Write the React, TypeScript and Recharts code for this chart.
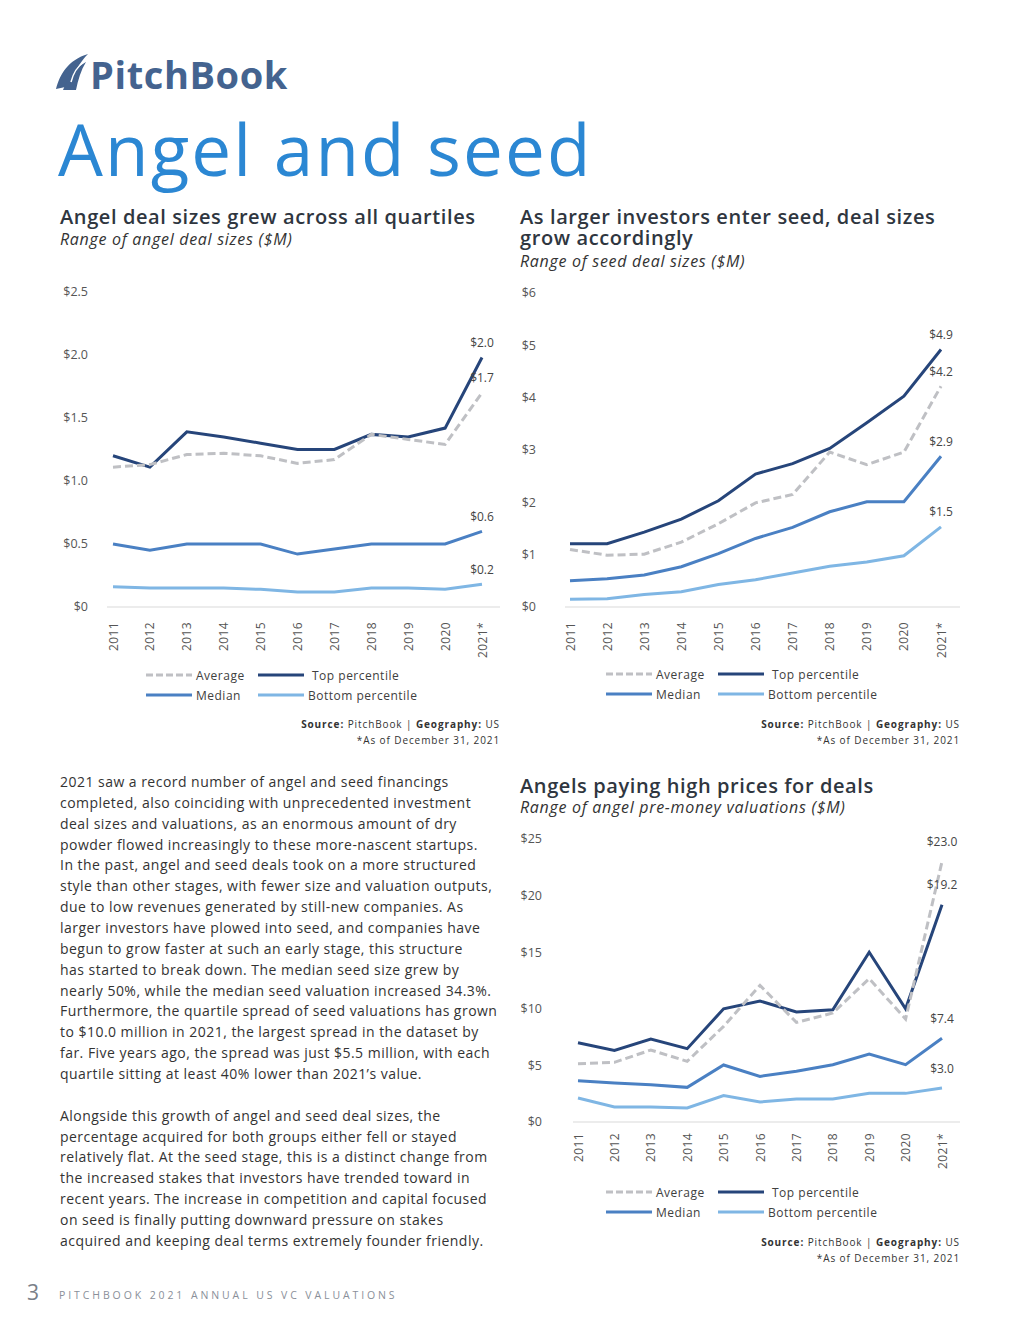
import React from "react";
import { Legend, Line, LineChart, XAxis, YAxis } from "recharts";

const years = ["2011", "2012", "2013", "2014", "2015", "2016", "2017", "2018", "2019", "2020", "2021*"];

// Range of angel deal sizes ($M)
const angelAvg = [1.11, 1.13, 1.21, 1.22, 1.2, 1.14, 1.17, 1.37, 1.33, 1.29, 1.7];
const angelTop = [1.2, 1.11, 1.39, 1.35, 1.3, 1.25, 1.25, 1.37, 1.35, 1.42, 1.98];
const angelMedian = [0.5, 0.45, 0.5, 0.5, 0.5, 0.42, 0.46, 0.5, 0.5, 0.5, 0.6];
const angelBottom = [0.16, 0.15, 0.15, 0.15, 0.14, 0.12, 0.12, 0.15, 0.15, 0.14, 0.18];
const angelTicks = [0, 0.5, 1, 1.5, 2, 2.5];

// Range of seed deal sizes ($M)
const seedAvg = [1.1, 0.99, 1.01, 1.24, 1.59, 1.99, 2.15, 2.96, 2.72, 2.96, 4.22];
const seedTop = [1.21, 1.21, 1.43, 1.68, 2.03, 2.54, 2.74, 3.03, 3.52, 4.03, 4.92];
const seedMedian = [0.5, 0.54, 0.61, 0.77, 1.02, 1.31, 1.52, 1.82, 2.01, 2.01, 2.88];
const seedBottom = [0.15, 0.16, 0.24, 0.29, 0.43, 0.52, 0.65, 0.78, 0.86, 0.98, 1.53];
const seedTicks = [0, 1, 2, 3, 4, 5, 6];

// Range of angel pre-money valuations ($M)
const valAvg = [5.15, 5.27, 6.36, 5.36, 8.45, 12.07, 8.8, 9.63, 12.66, 9.1, 23.0];
const valTop = [7.0, 6.33, 7.33, 6.48, 10.0, 10.69, 9.72, 9.92, 15.0, 10.0, 19.2];
const valMedian = [3.65, 3.45, 3.3, 3.06, 5.04, 4.03, 4.48, 5.06, 6.0, 5.06, 7.4];
const valBottom = [2.12, 1.33, 1.33, 1.24, 2.33, 1.77, 2.03, 2.03, 2.53, 2.53, 3.0];
const valTicks = [0, 5, 10, 15, 20, 25];

const seriesNames = ["Average", "Top percentile", "Median", "Bottom percentile"];

const C_AVG = "#bfc0c4";
const C_TOP = "#26457a";
const C_MED = "#4a80c3";
const C_BOT = "#7fb6e4";
const FONT = "'Open Sans', sans-serif";
const TEXT = "#2f3640";

const buildRows = (avg: number[], top: number[], med: number[], bot: number[]) =>
  years.map((year, i) => ({ year, avg: avg[i], top: top[i], med: med[i], bot: bot[i] }));

const angelRows = buildRows(angelAvg, angelTop, angelMedian, angelBottom);
const seedRows = buildRows(seedAvg, seedTop, seedMedian, seedBottom);
const valRows = buildRows(valAvg, valTop, valMedian, valBottom);

const last = years.length - 1;

const endLabel = (rise: number) => (p: any) => {
  if (p.index !== last) return <g key={`d-${p.index}`} />;
  return (
    <text
      key={`d-${p.index}`}
      x={p.cx}
      y={p.cy - rise}
      textAnchor="middle"
      dominantBaseline="central"
      fontFamily={FONT}
      fontSize={12}
      fill="#444"
    >
      {"$" + Number(p.value).toFixed(1)}
    </text>
  );
};

const rotTick = (gap: number) => (p: any) => (
  <text
    x={p.x}
    y={p.y + gap}
    transform={`rotate(-90 ${p.x} ${p.y + gap})`}
    textAnchor="end"
    dominantBaseline="central"
    fontFamily={FONT}
    fontSize={12}
    letterSpacing={0.4}
    fill="#555"
  >
    {p.payload.value}
  </text>
);

const LegendBox = (props: any) => {
  const items = props.payload || [];
  const find = (n: string) => items.find((it: any) => it.value === n);
  return (
    <div
      style={{
        display: "grid",
        gridTemplateColumns: "112px 200px",
        fontFamily: FONT,
        fontSize: 12,
        letterSpacing: 0.5,
        color: "#404040",
        whiteSpace: "nowrap",
      }}
    >
      {seriesNames.map((n) => {
        const it = find(n);
        const dashed = n === "Average";
        return (
          <div key={n} style={{ display: "flex", alignItems: "center", height: 20 }}>
            <svg width={48} height={6} style={{ marginRight: n === "Top percentile" ? 7 : 3, flexShrink: 0 }}>
              <line
                x1={1}
                x2={47}
                y1={3}
                y2={3}
                stroke={it ? it.color : "#999"}
                strokeWidth={3}
                strokeDasharray={dashed ? "7 3" : undefined}
              />
            </svg>
            <span>{n}</span>
          </div>
        );
      })}
    </div>
  );
};

type ChartProps = {
  rows: any[];
  ticks: number[];
  fmt: (v: number) => string;
  left: number;
  top: number;
  height: number;
  marginTop: number;
  plotBottom: number;
  yWidth: number;
  yGap: number;
  padL: number;
  padR: number;
  xGap: number;
  rise: number;
  legendTop: number;
};

const Chart = (c: ChartProps) => (
  <div style={{ position: "absolute", left: c.left, top: c.top }}>
    <LineChart
      width={450}
      height={c.height}
      data={c.rows}
      margin={{ top: c.marginTop, right: 5, left: 0, bottom: c.height - c.plotBottom - 30 }}
    >
      <XAxis
        dataKey="year"
        height={30}
        interval={0}
        tickLine={false}
        tickSize={0}
        tickMargin={0}
        axisLine={{ stroke: "#d9d9d9", strokeWidth: 1 }}
        padding={{ left: c.padL, right: c.padR }}
        tick={rotTick(c.xGap)}
      />
      <YAxis
        width={c.yWidth}
        domain={[c.ticks[0], c.ticks[c.ticks.length - 1]]}
        ticks={c.ticks}
        tickFormatter={c.fmt}
        axisLine={false}
        tickLine={false}
        tickSize={0}
        tickMargin={c.yGap}
        tick={{ fontFamily: FONT, fontSize: 12.5, fill: "#555" }}
      />
      <Legend
        verticalAlign="middle"
        layout="horizontal"
        align="center"
        content={<LegendBox />}
        wrapperStyle={{ top: c.legendTop, left: 90, width: 340 }}
      />
      <Line name="Top percentile" dataKey="top" stroke={C_TOP} strokeWidth={3} dot={endLabel(c.rise)} activeDot={false} isAnimationActive={false} />
      <Line name="Average" dataKey="avg" stroke={C_AVG} strokeWidth={3} strokeDasharray="8 4" dot={endLabel(c.rise)} activeDot={false} isAnimationActive={false} />
      <Line name="Median" dataKey="med" stroke={C_MED} strokeWidth={3} dot={endLabel(c.rise)} activeDot={false} isAnimationActive={false} />
      <Line name="Bottom percentile" dataKey="bot" stroke={C_BOT} strokeWidth={3} dot={endLabel(c.rise)} activeDot={false} isAnimationActive={false} />
    </LineChart>
  </div>
);

const Source = ({ top, right }: { top: number; right: number }) => (
  <div
    style={{
      position: "absolute",
      top,
      right: 1020 - right,
      textAlign: "right",
      fontFamily: FONT,
      fontSize: 10,
      letterSpacing: 0.9,
      lineHeight: "16px",
      color: "#333",
      whiteSpace: "nowrap",
    }}
  >
    <div>
      <b>Source:</b> PitchBook | <b>Geography:</b> US
    </div>
    <div>*As of December 31, 2021</div>
  </div>
);

const bodyLines = [
  "2021 saw a record number of angel and seed financings",
  "completed, also coinciding with unprecedented investment",
  "deal sizes and valuations, as an enormous amount of dry",
  "powder flowed increasingly to these more-nascent startups.",
  "In the past, angel and seed deals took on a more structured",
  "style than other stages, with fewer size and valuation outputs,",
  "due to low revenues generated by still-new companies. As",
  "larger investors have plowed into seed, and companies have",
  "begun to grow faster at such an early stage, this structure",
  "has started to break down. The median seed size grew by",
  "nearly 50%, while the median seed valuation increased 34.3%.",
  "Furthermore, the quartile spread of seed valuations has grown",
  "to $10.0 million in 2021, the largest spread in the dataset by",
  "far. Five years ago, the spread was just $5.5 million, with each",
  "quartile sitting at least 40% lower than 2021\u2019s value.",
  "",
  "Alongside this growth of angel and seed deal sizes, the",
  "percentage acquired for both groups either fell or stayed",
  "relatively flat. At the seed stage, this is a distinct change from",
  "the increased stakes that investors have trended toward in",
  "recent years. The increase in competition and capital focused",
  "on seed is finally putting downward pressure on stakes",
  "acquired and keeping deal terms extremely founder friendly.",
];

const titleStyle: React.CSSProperties = {
  position: "absolute",
  fontFamily: FONT,
  fontWeight: 600,
  fontSize: 20,
  letterSpacing: 0.6,
  lineHeight: "21px",
  color: TEXT,
  whiteSpace: "nowrap",
};
const subStyle: React.CSSProperties = {
  position: "absolute",
  fontFamily: FONT,
  fontStyle: "italic",
  fontSize: 16,
  letterSpacing: 0.7,
  lineHeight: "20px",
  color: "#333",
  whiteSpace: "nowrap",
};

const fmtDec = (v: number) => (v === 0 ? "$0" : "$" + v.toFixed(1));
const fmtInt = (v: number) => "$" + v;

export default function App() {
  return (
    <div
      style={{
        position: "absolute",
        left: 0,
        top: 0,
        width: 1020,
        height: 1320,
        overflow: "hidden",
        background: "#fff",
        fontFamily: FONT,
      }}
    >
      {/* logo */}
      <svg style={{ position: "absolute", left: 54, top: 52 }} width={38} height={40} viewBox="0 0 38 40">
        <path d="M2 37 C6 22 14 8 34 2 C26 10 20 20 16 34 Z" fill="#44638f" />
        <path d="M9 38 C14 26 20 16 32 10 C27 18 24 28 22 38 Z" fill="#44638f" />
        <path d="M17 30 C19 22 24 14 30 10" stroke="#fff" strokeWidth={1.5} fill="none" />
      </svg>
      <div
        style={{
          position: "absolute",
          left: 90,
          top: 48,
          fontFamily: FONT,
          fontWeight: 700,
          fontSize: 38,
          letterSpacing: 0.6,
          lineHeight: "52px",
          color: "#44638f",
        }}
      >
        PitchBook
      </div>

      <div
        style={{
          position: "absolute",
          left: 58,
          top: 104,
          fontFamily: FONT,
          fontWeight: 500,
          fontSize: 71,
          letterSpacing: 2.1,
          lineHeight: "90px",
          color: "#2b87d3",
          whiteSpace: "nowrap",
        }}
      >
        Angel and seed
      </div>

      {/* chart 1 */}
      <div style={{ ...titleStyle, left: 60, top: 206 }}>Angel deal sizes grew across all quartiles</div>
      <div style={{ ...subStyle, left: 60, top: 229 }}>Range of angel deal sizes ($M)</div>
      <Chart
        rows={angelRows}
        ticks={angelTicks}
        fmt={fmtDec}
        left={55}
        top={280}
        height={430}
        marginTop={12}
        plotBottom={327}
        yWidth={52}
        yGap={19}
        padL={6}
        padR={18}
        xGap={15}
        rise={15}
        legendTop={385}
      />
      <Source top={716} right={500} />

      {/* chart 2 */}
      <div style={{ ...titleStyle, left: 520, top: 206 }}>
        As larger investors enter seed, deal sizes
        <br />
        grow accordingly
      </div>
      <div style={{ ...subStyle, left: 520, top: 251 }}>Range of seed deal sizes ($M)</div>
      <Chart
        rows={seedRows}
        ticks={seedTicks}
        fmt={fmtInt}
        left={515}
        top={280}
        height={430}
        marginTop={13}
        plotBottom={327}
        yWidth={50}
        yGap={29}
        padL={5}
        padR={19}
        xGap={15}
        rise={15}
        legendTop={384}
      />
      <Source top={716} right={960} />

      {/* body text */}
      <div
        style={{
          position: "absolute",
          left: 60,
          top: 772,
          fontFamily: FONT,
          fontSize: 14,
          letterSpacing: 0.47,
          lineHeight: "20.86px",
          color: "#333",
          whiteSpace: "nowrap",
        }}
      >
        {bodyLines.map((l, i) => (
          <div key={i} style={{ height: 20.86 }}>
            {l}
          </div>
        ))}
      </div>

      {/* chart 3 */}
      <div style={{ ...titleStyle, left: 520, top: 775 }}>Angels paying high prices for deals</div>
      <div style={{ ...subStyle, left: 520, top: 797 }}>Range of angel pre-money valuations ($M)</div>
      <Chart
        rows={valRows}
        ticks={valTicks}
        fmt={fmtInt}
        left={515}
        top={830}
        height={400}
        marginTop={9}
        plotBottom={292}
        yWidth={58}
        yGap={31}
        padL={5}
        padR={18}
        xGap={11}
        rise={20}
        legendTop={352}
      />
      <Source top={1234} right={960} />

      {/* footer */}
      <div
        style={{
          position: "absolute",
          left: 27,
          top: 1278,
          fontFamily: FONT,
          fontSize: 21,
          lineHeight: "28px",
          color: "#7a7f88",
        }}
      >
        3
      </div>
      <div
        style={{
          position: "absolute",
          left: 59,
          top: 1287,
          fontFamily: FONT,
          fontSize: 10.5,
          letterSpacing: 2.9,
          lineHeight: "16px",
          color: "#8a8f99",
          whiteSpace: "nowrap",
        }}
      >
        PITCHBOOK 2021 ANNUAL US VC VALUATIONS
      </div>
    </div>
  );
}
